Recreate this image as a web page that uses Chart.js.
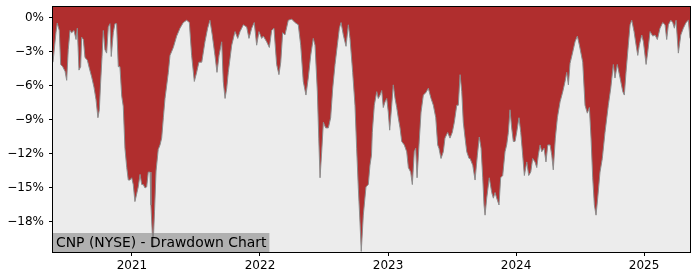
<!DOCTYPE html>
<html>
<head>
<meta charset="utf-8">
<script src="https://cdn.jsdelivr.net/npm/chart.js@4"></script>
<style>
  body { margin: 0; background: #fff; }
  canvas { display: block; }
</style>
</head>
<body>
<canvas id="myChart" width="700" height="280"></canvas>
<script>
/* drawdown data (decimal year, % below running peak) */
const dates = [
  2020.383, 2020.406, 2020.416, 2020.432, 2020.443, 2020.459, 2020.477, 2020.490, 2020.502, 2020.516,
  2020.529, 2020.547, 2020.563, 2020.573, 2020.586, 2020.599, 2020.607, 2020.620, 2020.633, 2020.651,
  2020.666, 2020.685, 2020.703, 2020.719, 2020.734, 2020.745, 2020.755, 2020.766, 2020.776, 2020.789,
  2020.802, 2020.815, 2020.828, 2020.838, 2020.854, 2020.867, 2020.880, 2020.893, 2020.906, 2020.920,
  2020.932, 2020.945, 2020.959, 2020.971, 2020.984, 2020.998, 2021.010, 2021.023, 2021.037, 2021.049,
  2021.063, 2021.076, 2021.088, 2021.102, 2021.115, 2021.127, 2021.141, 2021.148, 2021.164, 2021.176,
  2021.188, 2021.205, 2021.219, 2021.232, 2021.245, 2021.258, 2021.284, 2021.297, 2021.323, 2021.349,
  2021.375, 2021.401, 2021.427, 2021.448, 2021.466, 2021.487, 2021.505, 2021.523, 2021.545, 2021.570,
  2021.591, 2021.609, 2021.627, 2021.648, 2021.664, 2021.680, 2021.701, 2021.713, 2021.727, 2021.740,
  2021.752, 2021.779, 2021.805, 2021.826, 2021.844, 2021.870, 2021.896, 2021.914, 2021.935, 2021.955,
  2021.974, 2021.992, 2022.013, 2022.026, 2022.052, 2022.073, 2022.091, 2022.109, 2022.130, 2022.148,
  2022.162, 2022.177, 2022.195, 2022.221, 2022.248, 2022.273, 2022.299, 2022.318, 2022.338, 2022.359,
  2022.377, 2022.396, 2022.416, 2022.430, 2022.448, 2022.459, 2022.469, 2022.482, 2022.495, 2022.513,
  2022.534, 2022.552, 2022.568, 2022.586, 2022.604, 2022.620, 2022.633, 2022.651, 2022.672, 2022.690,
  2022.703, 2022.724, 2022.742, 2022.755, 2022.768, 2022.781, 2022.791, 2022.807, 2022.828, 2022.846,
  2022.859, 2022.871, 2022.877, 2022.893, 2022.912, 2022.924, 2022.938, 2022.951, 2022.963, 2022.977,
  2022.990, 2023.002, 2023.013, 2023.029, 2023.041, 2023.055, 2023.068, 2023.080, 2023.094, 2023.107,
  2023.127, 2023.146, 2023.159, 2023.177, 2023.190, 2023.205, 2023.216, 2023.227, 2023.242, 2023.258,
  2023.276, 2023.295, 2023.315, 2023.336, 2023.354, 2023.373, 2023.388, 2023.398, 2023.414, 2023.432,
  2023.445, 2023.466, 2023.484, 2023.502, 2023.518, 2023.537, 2023.549, 2023.563, 2023.576, 2023.588,
  2023.602, 2023.615, 2023.633, 2023.641, 2023.662, 2023.680, 2023.698, 2023.713, 2023.727, 2023.740,
  2023.750, 2023.758, 2023.771, 2023.791, 2023.810, 2023.823, 2023.836, 2023.849, 2023.867, 2023.880,
  2023.896, 2023.914, 2023.927, 2023.940, 2023.953, 2023.966, 2023.979, 2023.992, 2024.005, 2024.023,
  2024.037, 2024.052, 2024.065, 2024.084, 2024.099, 2024.115, 2024.130, 2024.148, 2024.162, 2024.174,
  2024.188, 2024.201, 2024.219, 2024.234, 2024.248, 2024.266, 2024.279, 2024.291, 2024.307, 2024.323,
  2024.344, 2024.365, 2024.383, 2024.396, 2024.409, 2024.422, 2024.443, 2024.461, 2024.479, 2024.495,
  2024.521, 2024.539, 2024.557, 2024.573, 2024.586, 2024.599, 2024.612, 2024.625, 2024.638, 2024.656,
  2024.674, 2024.695, 2024.721, 2024.740, 2024.760, 2024.773, 2024.791, 2024.813, 2024.834, 2024.846,
  2024.859, 2024.877, 2024.891, 2024.904, 2024.922, 2024.938, 2024.951, 2024.963, 2024.982, 2024.995,
  2025.016, 2025.029, 2025.047, 2025.068, 2025.086, 2025.104, 2025.125, 2025.146, 2025.164, 2025.177,
  2025.190, 2025.209, 2025.224, 2025.237, 2025.250, 2025.268, 2025.287, 2025.307, 2025.328, 2025.346,
  2025.359
];
const drawdown = [
  -3.9, -1.3, -0.45, -1.1, -4.1, -4.3, -4.7, -5.5, -2.8, -1.1,
  -1.3, -1.1, -1.9, -0.9, -4.6, -4.3, -1.7, -1.9, -3.5, -3.7,
  -4.4, -5.2, -6.1, -7.2, -8.8, -8.1, -5.7, -3.4, -1.1, -2.8,
  -3.1, -0.8, -0.5, -3.4, -1.3, -0.5, -0.5, -4.3, -4.3, -6.9,
  -7.8, -11.5, -13.2, -14.3, -14.3, -14.1, -14.7, -16.2, -15.5, -14.9,
  -13.8, -14.7, -14.7, -15.0, -14.9, -13.6, -13.6, -16.5, -20.3, -17.1,
  -13.5, -11.6, -11.2, -10.6, -8.8, -7.1, -4.8, -3.3, -2.6, -1.6,
  -0.9, -0.4, -0.2, -0.4, -3.3, -5.6, -4.8, -3.9, -3.9, -2.1,
  -0.9, -0.2, -1.5, -3.3, -4.8, -3.3, -2.1, -5.6, -7.1, -6.2,
  -4.8, -2.4, -1.2, -1.8, -1.2, -0.6, -0.8, -1.8, -0.9, -0.4,
  -2.4, -1.2, -1.8, -1.6, -2.1, -2.6, -1.1, -0.9, -4.1, -5.0,
  -3.9, -1.3, -1.5, -0.2, -0.1, -0.4, -0.6, -2.4, -5.6, -6.8,
  -5.3, -3.3, -1.8, -2.4, -6.5, -10.6, -14.1, -11.8, -9.2, -9.7,
  -9.7, -8.8, -6.2, -4.1, -2.4, -0.9, -0.4, -1.5, -2.5, -0.6,
  -1.8, -4.8, -7.7, -11.5, -15.0, -18.0, -20.6, -17.4, -14.9, -14.7,
  -13.0, -12.1, -10.1, -7.7, -6.5, -7.1, -6.8, -6.4, -7.9, -7.4,
  -7.1, -8.3, -9.9, -7.7, -5.9, -7.1, -7.9, -8.8, -9.7, -10.9,
  -11.2, -11.8, -13.2, -13.6, -14.7, -11.8, -11.5, -14.1, -11.2, -8.3,
  -6.8, -6.6, -6.2, -7.1, -7.7, -8.8, -11.2, -11.5, -12.4, -11.8,
  -10.6, -10.1, -10.6, -10.1, -9.2, -7.7, -7.7, -5.0, -6.5, -9.2,
  -10.6, -11.8, -12.4, -12.4, -13.0, -14.3, -12.1, -10.5, -11.5, -14.1,
  -16.5, -17.4, -15.9, -14.1, -15.4, -15.9, -15.4, -15.9, -16.5, -14.1,
  -13.9, -11.8, -11.2, -10.1, -8.1, -9.7, -10.9, -10.9, -10.1, -8.8,
  -10.1, -12.1, -13.9, -12.7, -13.9, -13.6, -12.4, -12.7, -13.2, -12.1,
  -11.2, -11.8, -11.5, -12.7, -11.2, -11.2, -12.1, -13.4, -10.6, -8.8,
  -7.4, -6.5, -5.6, -4.8, -5.9, -4.0, -3.0, -2.1, -1.6, -2.4,
  -3.9, -7.7, -8.4, -7.9, -10.6, -14.1, -16.5, -17.4, -15.9, -13.6,
  -12.4, -10.1, -7.7, -6.2, -4.1, -5.3, -4.1, -5.3, -6.5, -6.8,
  -4.8, -2.4, -0.6, -0.2, -1.2, -2.4, -3.3, -2.4, -1.5, -2.1,
  -4.1, -3.0, -1.2, -1.6, -1.5, -1.9, -0.9, -0.4, -0.6, -1.9,
  -0.6, -0.2, -0.4, -0.9, -0.2, -3.1, -1.5, -0.9, -0.4, -0.2,
  -1.8
];
const yearTicks = [2021, 2022, 2023, 2024, 2025];
const pctTicks = [0, -3, -6, -9, -12, -15, -18];
const chartTitle = 'CNP (NYSE) - Drawdown Chart';

const points = dates.map((d, i) => ({ x: d, y: drawdown[i] }));

// 배경 + 테두리 + 라벨 박스
const framePlugin = {
    id: 'frame',
    beforeDatasetsDraw(chart) {
        const { ctx, chartArea: a } = chart;
        ctx.save();
        ctx.fillStyle = '#ececec';
        ctx.fillRect(a.left, a.top, a.right - a.left, a.bottom - a.top);
        ctx.restore();
    },
    afterDatasetsDraw(chart) {
        const { ctx, chartArea: a } = chart;
        ctx.save();
        ctx.font = '13.9px "DejaVu Sans"';
        const w = ctx.measureText(chartTitle).width;
        ctx.fillStyle = 'rgba(128,128,128,0.55)';
        ctx.fillRect(a.left, a.bottom - 19, w + 6, 19);
        ctx.fillStyle = '#000';
        ctx.textBaseline = 'middle';
        ctx.fillText(chartTitle, a.left + 3, a.bottom - 9);
        ctx.strokeStyle = '#000';
        ctx.lineWidth = 1;
        ctx.strokeRect(a.left - 0.5, a.top - 0.5, a.right - a.left + 1, a.bottom - a.top + 1);
        ctx.restore();
    }
};

const myChart = new Chart(document.getElementById('myChart').getContext('2d'), {
    type: 'line',
    data: {
        datasets: [{
            data: points,
            borderColor: '#8c8c8c',
            borderWidth: 1,
            backgroundColor: 'rgb(176,46,46)',
            fill: 'end',
            pointRadius: 0,
            tension: 0
        }]
    },
    options: {
        responsive: false,
        animation: false,
        layout: { padding: { top: 7, right: 10, left: 0, bottom: 0 } },
        plugins: {
            legend: { display: false },
            tooltip: { enabled: false }
        },
        scales: {
            x: {
                type: 'linear',
                min: 2020.383,
                max: 2025.359,
                afterBuildTicks: (axis) => { axis.ticks = yearTicks.map(v => ({ value: v })); },
                afterFit: (axis) => { axis.height = 28; axis.paddingLeft = 0; axis.paddingRight = 0; },
                grid: { drawOnChartArea: false, drawTicks: true, tickLength: 4, color: '#000' },
                border: { display: false },
                ticks: {
                    color: '#000',
                    font: { family: 'DejaVu Sans', size: 12 },
                    padding: 3,
                    maxRotation: 0,
                    callback: (v) => String(v)
                }
            },
            y: {
                min: -20.65,
                max: 0.97,
                afterBuildTicks: (axis) => { axis.ticks = pctTicks.map(v => ({ value: v })); },
                afterFit: (axis) => { axis.width = 53; axis.paddingTop = 0; axis.paddingBottom = 0; },
                grid: { drawOnChartArea: false, drawTicks: true, tickLength: 4, color: '#000' },
                border: { display: false },
                ticks: {
                    color: '#000',
                    font: { family: 'DejaVu Sans', size: 12 },
                    padding: 5,
                    callback: (v) => v === 0 ? '0%' : '\u2212' + Math.abs(v) + '%'
                }
            }
        }
    },
    plugins: [framePlugin]
});
</script>
</body>
</html>
